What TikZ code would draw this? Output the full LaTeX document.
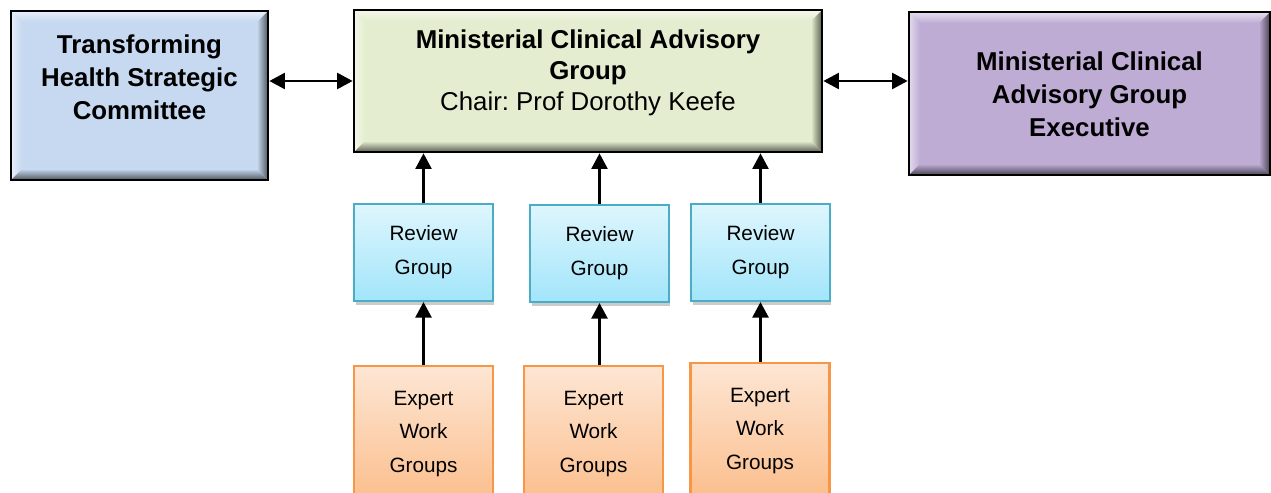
\documentclass[tikz,border=0pt]{standalone}
\usepackage{fontspec}
\setmainfont{Liberation Sans}
\usetikzlibrary{arrows.meta}
\usetikzlibrary{shadows}
\usetikzlibrary{positioning}
\frenchspacing
\definecolor{tshcblue}{RGB}{198,217,240}
\definecolor{mcaggreen}{RGB}{228,237,207}
\definecolor{execpurple}{RGB}{190,172,212}
\definecolor{rgtop}{RGB}{222,246,253}
\definecolor{rgbottom}{RGB}{162,229,250}
\definecolor{rgedge}{RGB}{75,172,198}
\definecolor{ewgtop}{RGB}{253,230,212}
\definecolor{ewgbottom}{RGB}{251,190,140}
\definecolor{ewgedge}{RGB}{247,150,70}
\tikzset{bevel box/.style={
    rectangle, draw=black, line width=1.6pt, fill=#1,
    path picture={
      \coordinate (bb-nw) at (path picture bounding box.north west);
      \coordinate (bb-ne) at (path picture bounding box.north east);
      \coordinate (bb-sw) at (path picture bounding box.south west);
      \coordinate (bb-se) at (path picture bounding box.south east);
      \shade[left color=#1!45!white, right color=#1]
        (bb-nw) -- ([shift={(2.2mm,-2.2mm)}]bb-nw)
        -- ([shift={(2.2mm,2.2mm)}]bb-sw) -- (bb-sw) -- cycle;
      \shade[left color=#1, right color=#1!40!black]
        (bb-ne) -- ([shift={(-2.2mm,-2.2mm)}]bb-ne)
        -- ([shift={(-2.2mm,2.2mm)}]bb-se) -- (bb-se) -- cycle;
      \shade[top color=#1!40!white, bottom color=#1]
        (bb-nw) -- (bb-ne) -- ([shift={(-2.2mm,-2.2mm)}]bb-ne)
        -- ([shift={(2.2mm,-2.2mm)}]bb-nw) -- cycle;
      \shade[top color=#1, bottom color=#1!40!black]
        (bb-sw) -- (bb-se) -- ([shift={(-2.2mm,2.2mm)}]bb-se)
        -- ([shift={(2.2mm,2.2mm)}]bb-sw) -- cycle;
    }
  },
  bevel text/.style={
    align=center,
    font=\fontsize{14.7}{18.8}\selectfont\bfseries
  },
  review/.style={
    rectangle, draw=rgedge, line width=1.2pt,
    top color=rgtop, bottom color=rgbottom,
    minimum width=2.78cm, minimum height=1.94cm,
    align=center, font=\fontsize{11.8}{19.3}\selectfont,
    drop shadow={fill=black!45, opacity=0.45, shadow xshift=0.3mm, shadow yshift=-0.8mm}
  },
  expert/.style={
    rectangle, draw=ewgedge, line width=1.2pt,
    top color=ewgtop, bottom color=ewgbottom,
    minimum width=2.78cm, minimum height=2.72cm,
    align=center, font=\fontsize{11.8}{19.3}\selectfont,
    drop shadow={fill=black!45, opacity=0.35, shadow xshift=0.3mm, shadow yshift=-0.8mm}
  },
  link/.style={line width=1.3pt, -{Triangle[length=3.1mm,width=3.2mm]}},
  twoway/.style={line width=1.3pt, {Triangle[length=3.1mm,width=3.2mm]}-{Triangle[length=3.1mm,width=3.2mm]}}
}

\begin{document}
\begin{tikzpicture}[x=0.02cm,y=-0.02cm]

  \clip (0,0) rectangle (1271,493);

  % top row
  \node (tshc) [bevel box=tshcblue, minimum width=5.14cm, minimum height=3.38cm] at (139.5,95.5) {};
  \node (tshc-text) [bevel text] at (139.5,77) {Transforming\\Health Strategic\\Committee};

  \node (mcag) [bevel box=mcaggreen, minimum width=9.36cm, minimum height=2.84cm] at (588,81) {};
  \node (mcag-text) [align=center, font=\fontsize{14.7}{17.6}\selectfont] at (588,73)
    {\textbf{Ministerial Clinical Advisory}\\\textbf{Group}\\Chair: Prof Dorothy Keefe};

  \node (mcage) [bevel box=execpurple, minimum width=7.22cm, minimum height=3.26cm] at (1089.5,93.5) {};
  \node (mcage-text) [bevel text] at (1089.5,94) {Ministerial Clinical\\Advisory Group\\Executive};

  \draw[twoway] (tshc.east |- mcag.west) -- (mcag.west);
  \draw[twoway] (mcag.east) -- (mcag.east -| mcage.west);

  % review groups and their expert work groups
  \foreach \i/\rx/\ry/\ex/\ey in {1/423.5/252.5/423.5/434, 2/599.5/253.5/593.5/434, 3/760.5/252.5/760/431} {
    \node (rg\i) [review] at (\rx,\ry) {Review\\Group};
    \node (ewg\i) [expert] at (\ex,\ey) {Expert\\Work\\Groups};
    \draw[link] (rg\i.north) -- (rg\i.north |- mcag.south);
    \draw[link] (rg\i.south |- ewg\i.north) -- (rg\i.south);
  }
\end{tikzpicture}
\end{document}
